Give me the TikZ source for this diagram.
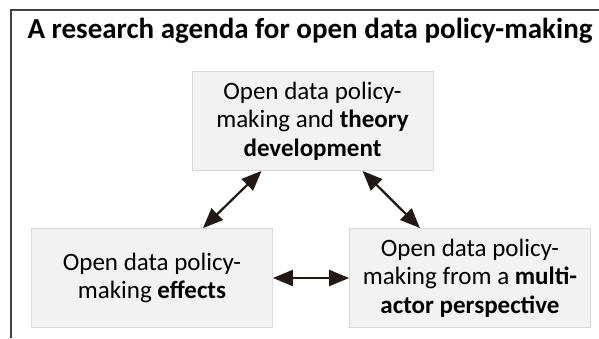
\documentclass[tikz,border=0pt]{standalone}
\usepackage{fontspec}
\setmainfont{Carlito}
\usetikzlibrary{arrows.meta}
\definecolor{cink}{HTML}{231815}
\definecolor{cframe}{HTML}{404040}
\definecolor{cfill}{HTML}{F2F2F2}
\definecolor{cedge}{HTML}{D9D9D9}
\tikzset{
  every picture/.style={x=1pt, y=-1pt},
  topic/.style={draw=cedge, fill=cfill, line width=0.8pt, align=center, minimum width=241pt, minimum height=99pt, inner sep=4pt, font=\fontsize{25}{28.5}\selectfont},
  link/.style={{Triangle[length=20pt, width=16pt]}-{Triangle[length=20pt, width=16pt]}, draw=cink, fill=cink, line width=2.2pt},
  title/.style={font=\fontsize{29}{34}\selectfont\bfseries},
}

\begin{document}
\begin{tikzpicture}
  \useasboundingbox (0,0) rectangle (599,338);
  % outer frame, runs off the right and bottom
  \draw[cframe, line width=1.6pt] (11,338) -- (11,10) -- (599,10);
  \node[title] (head) at (310,31) {A research agenda for open data policy-making};
  \node[topic] (theory) at (312.5,121) {Open data policy-\\making and \textbf{theory}\\\textbf{development}};
  \node[topic] (effects) at (152,278) {Open data policy-\\making \textbf{effects}};
  \node[topic] (actor) at (470,278) {Open data policy-\\making from a \textbf{multi-}\\\textbf{actor perspective}};
  \draw[link] (theory) -- (effects);
  \draw[link] (theory) -- (actor);
  \draw[link] (effects) -- (actor);
\end{tikzpicture}
\end{document}
